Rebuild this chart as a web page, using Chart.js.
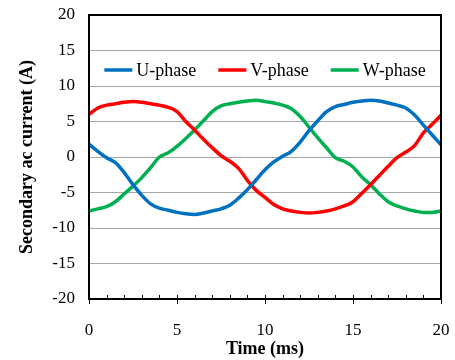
<!DOCTYPE html>
<html>
<head>
<meta charset="utf-8">
<script src="https://cdn.jsdelivr.net/npm/chart.js@4.4.1/dist/chart.umd.min.js"></script>
<style>
  html, body { margin: 0; padding: 0; background: #fff; }
  #wrap { width: 455px; height: 360px; }
</style>
</head>
<body>
<div id="wrap"><canvas id="phaseChart" width="455" height="360"></canvas></div>
<script>
// time axis (ms), sampled every 0.5 ms
var timeMs = [0, 0.5, 1, 1.5, 2, 2.5, 3, 3.5, 4, 4.5, 5, 5.5, 6, 6.5, 7, 7.5, 8, 8.5, 9, 9.5,
              10, 10.5, 11, 11.5, 12, 12.5, 13, 13.5, 14, 14.5, 15, 15.5, 16, 16.5, 17, 17.5, 18, 18.5, 19, 19.5, 20];

var uPhase = [1.8, 0.8, -0.1, -0.8, -2.2, -3.9, -5.4, -6.6, -7.2, -7.5, -7.8, -8.0, -8.1, -7.9, -7.6, -7.3, -6.8, -5.8, -4.6, -3.2,
              -1.8, -0.7, 0.1, 0.8, 2.1, 3.7, 5.1, 6.4, 7.1, 7.4, 7.7, 7.9, 8.0, 7.9, 7.6, 7.3, 6.9, 5.9, 4.5, 3.1, 1.7];
var vPhase = [6.0, 6.9, 7.3, 7.5, 7.7, 7.8, 7.7, 7.5, 7.3, 7.0, 6.4, 5.0, 3.8, 2.5, 1.3, 0.2, -0.6, -1.6, -3.3, -4.7,
              -5.7, -6.7, -7.3, -7.6, -7.8, -7.9, -7.8, -7.6, -7.3, -6.9, -6.3, -5.1, -3.9, -2.6, -1.3, -0.1, 0.7, 1.6, 3.4, 4.6, 5.9];
var wPhase = [-7.6, -7.3, -7.0, -6.3, -5.2, -4.1, -2.9, -1.5, 0.0, 0.6, 1.5, 2.6, 3.8, 5.1, 6.4, 7.2, 7.5, 7.7, 7.9, 8.0,
              7.8, 7.6, 7.3, 6.8, 5.7, 4.2, 2.7, 1.3, -0.1, -0.6, -1.4, -2.8, -3.9, -5.2, -6.3, -6.9, -7.3, -7.6, -7.8, -7.8, -7.6];

var seriesNames = ['U-phase', 'V-phase', 'W-phase'];
var seriesColors = ['#0070C0', '#FF0000', '#00B050'];

var xTicks = [0, 5, 10, 15, 20];
var yTicks = [-20, -15, -10, -5, 0, 5, 10, 15, 20];

var serif = '"Liberation Serif", "Times New Roman", serif';

function points(vals) {
  return vals.map(function (v, i) { return { x: timeMs[i], y: v }; });
}

// legend drawn inside the plot, plus the frame and the small x ticks
var extras = {
  id: 'extras',
  afterDraw: function (chart) {
    var ctx = chart.ctx;
    var a = chart.chartArea;
    var xs = chart.scales.x;
    ctx.save();

    // x ticks: minor every 1 ms inward, major every 5 ms across the axis
    ctx.strokeStyle = '#000';
    ctx.lineWidth = 1;
    for (var t = 0; t <= 20; t++) {
      var px = Math.round(xs.getPixelForValue(t)) + 0.5;
      ctx.beginPath();
      if (t % 5 === 0) {
        ctx.moveTo(px, a.bottom - 4);
        ctx.lineTo(px, a.bottom + 5);
      } else {
        ctx.moveTo(px, a.bottom - 4);
        ctx.lineTo(px, a.bottom);
      }
      ctx.stroke();
    }

    // frame
    ctx.lineWidth = 2;
    ctx.strokeStyle = '#000';
    ctx.strokeRect(a.left, a.top, a.right - a.left, a.bottom - a.top);

    // legend
    ctx.font = '18px ' + serif;
    ctx.textBaseline = 'middle';
    ctx.textAlign = 'left';
    var sw = 28, gapText = 4, gapItem = 22;
    var total = 0;
    seriesNames.forEach(function (n, i) {
      total += sw + gapText + ctx.measureText(n).width;
      if (i < seriesNames.length - 1) total += gapItem;
    });
    var lx = (a.left + a.right) / 2 - total / 2;
    var ly = a.top + 55;
    seriesNames.forEach(function (n, i) {
      ctx.strokeStyle = seriesColors[i];
      ctx.lineWidth = 3.5;
      ctx.beginPath();
      ctx.moveTo(lx, ly);
      ctx.lineTo(lx + sw, ly);
      ctx.stroke();
      ctx.fillStyle = '#000';
      ctx.fillText(n, lx + sw + gapText, ly + 1);
      lx += sw + gapText + ctx.measureText(n).width + gapItem;
    });
    ctx.restore();
  }
};

new Chart(document.getElementById('phaseChart'), {
  type: 'line',
  data: {
    datasets: [
      { label: seriesNames[0], data: points(uPhase), borderColor: seriesColors[0] },
      { label: seriesNames[1], data: points(vPhase), borderColor: seriesColors[1] },
      { label: seriesNames[2], data: points(wPhase), borderColor: seriesColors[2] }
    ].map(function (d) {
      d.borderWidth = 3.5;
      d.pointRadius = 0;
      d.fill = false;
      d.cubicInterpolationMode = 'monotone';
      return d;
    })
  },
  options: {
    responsive: false,
    animation: false,
    layout: { padding: { top: 15, right: 14, left: 0, bottom: 0 } },
    plugins: {
      legend: { display: false },
      tooltip: { enabled: false }
    },
    scales: {
      x: {
        type: 'linear',
        min: 0, max: 20,
        afterBuildTicks: function (s) { s.ticks = xTicks.map(function (v) { return { value: v }; }); },
        afterFit: function (s) { s.height = 61; s.paddingLeft = 0; s.paddingRight = 0; },
        grid: { display: false },
        border: { display: false },
        ticks: { color: '#000', font: { family: serif, size: 17 }, padding: 13, maxRotation: 0 },
        title: { display: true, text: 'Time (ms)', color: '#000',
                 font: { family: serif, size: 18, weight: 'bold' }, padding: { top: 0, bottom: 0 } }
      },
      y: {
        min: -20, max: 20,
        afterBuildTicks: function (s) { s.ticks = yTicks.map(function (v) { return { value: v }; }); },
        afterFit: function (s) { s.width = 89; s.paddingTop = 0; s.paddingBottom = 0; },
        grid: { color: '#a6a6a6', lineWidth: 1, drawTicks: false },
        border: { display: false },
        ticks: { color: '#000', font: { family: serif, size: 17 }, padding: 14 },
        title: { display: true, text: 'Secondary ac current (A)', color: '#000',
                 font: { family: serif, size: 18, weight: 'bold' }, padding: { top: 17, bottom: 0 } }
      }
    }
  },
  plugins: [extras]
});
</script>
</body>
</html>
